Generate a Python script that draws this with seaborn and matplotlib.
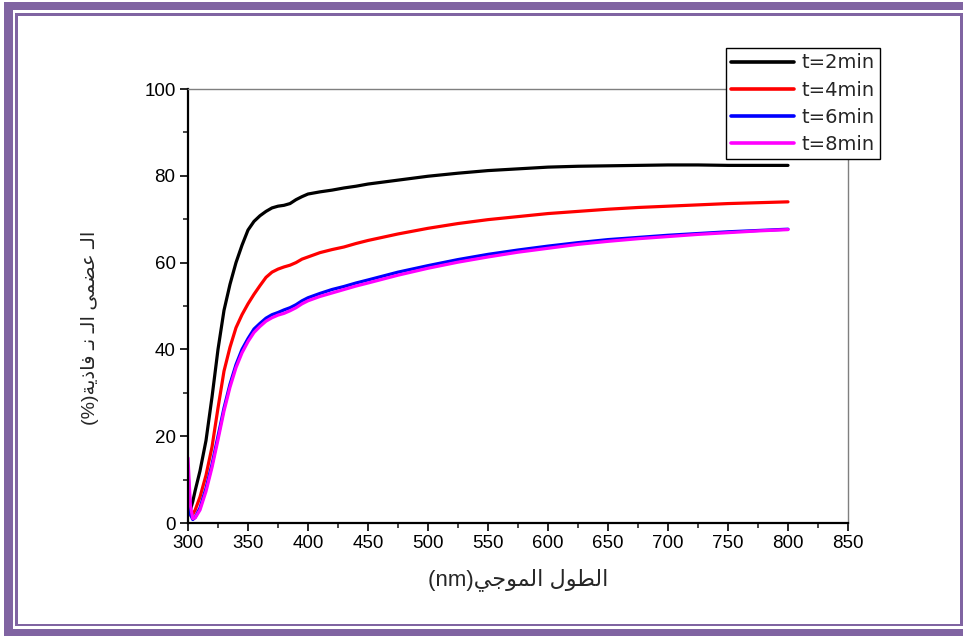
import numpy as np
import pandas as pd
import matplotlib
matplotlib.use("Agg")
import matplotlib.pyplot as plt
from matplotlib.patches import Rectangle
from matplotlib.ticker import MultipleLocator
import seaborn as sns

# ---------------- data ----------------
wavelength = [300, 302, 304, 306, 310, 315, 320, 325, 330, 335, 340, 345, 350,
              355, 360, 365, 370, 375, 380, 385, 390, 395, 400, 410, 420, 430,
              440, 450, 475, 500, 525, 550, 575, 600, 625, 650, 675, 700, 725,
              750, 775, 800]
t2_values = [6, 3, 5, 7.5, 12, 19, 29, 40, 49, 55, 60, 64, 67.5,
             69.5, 70.8, 71.8, 72.6, 73.0, 73.2, 73.6, 74.5, 75.2, 75.8, 76.3, 76.7, 77.2,
             77.6, 78.1, 79.0, 79.9, 80.6, 81.2, 81.6, 82.0, 82.2, 82.3, 82.4, 82.5, 82.5,
             82.4, 82.4, 82.4]
t4_values = [4, 1.8, 2, 3, 6, 11, 17.5, 26.5, 35, 40.5, 45, 48, 50.5,
             52.7, 54.7, 56.6, 57.8, 58.5, 59.0, 59.4, 60.0, 60.8, 61.3, 62.3, 63.0, 63.6,
             64.4, 65.1, 66.6, 67.9, 69.0, 69.9, 70.6, 71.3, 71.8, 72.3, 72.7, 73.0, 73.3,
             73.6, 73.8, 74.0]
t6_values = [12, 2, 0.8, 1.3, 3.5, 8, 13.5, 20, 26.5, 32, 36.5, 40, 42.5,
             44.7, 46.0, 47.2, 48.0, 48.5, 49.1, 49.6, 50.3, 51.2, 51.9, 52.9, 53.8, 54.5,
             55.3, 56.0, 57.8, 59.3, 60.7, 61.9, 62.9, 63.8, 64.6, 65.3, 65.8, 66.3, 66.7,
             67.1, 67.4, 67.7]
t8_values = [15, 4, 1, 1.2, 3, 7.3, 12.8, 19.2, 25.8, 31.3, 35.8, 39.2, 41.8,
             43.9, 45.3, 46.5, 47.3, 47.9, 48.3, 48.9, 49.6, 50.5, 51.2, 52.2, 53.0, 53.8,
             54.6, 55.3, 57.1, 58.7, 60.1, 61.3, 62.4, 63.3, 64.2, 64.9, 65.5, 66.0, 66.5,
             66.9, 67.3, 67.6]
series_labels = ["t=2min", "t=4min", "t=6min", "t=8min"]
series_colors = ["#000000", "#ff0000", "#0000ff", "#ff00ff"]
x_ticks = [300, 350, 400, 450, 500, 550, 600, 650, 700, 750, 800, 850]
y_ticks = [0, 20, 40, 60, 80, 100]

# Arabic labels, written as shaped glyphs in visual order
x_label = "(nm)" + "\uFEF2\uFE9F\uFEEE\uFEE4\uFEDF\uFE8D" + " " + "\uFEDD\uFEEE\uFEC4\uFEDF\uFE8D"
y_label = ("(%)" + "\uFE94\uFEF3\uFEAB\uFE8E\uFED3" + " " + "\u0640\uFEE7" + " "
           + "\u0640\uFEDF\uFE8D" + " " + "\uFEF0\uFEE4\uFEC0\uFECB" + " " + "\u0640\uFEDF\uFE8D")

# ---------------- build long table ----------------
rows = []
for lab, vals in zip(series_labels, [t2_values, t4_values, t6_values, t8_values]):
    for w, v in zip(wavelength, vals):
        rows.append({"wl": w, "T": v, "series": lab})
df = pd.DataFrame(rows)

sns.set_style("ticks")
plt.rcParams["font.family"] = ["Liberation Sans", "DejaVu Sans"]

W, H = 963, 636
fig = plt.figure(figsize=(W / 100, H / 100), dpi=100)
fig.patch.set_facecolor("white")

ax = fig.add_axes([188 / W, 1 - 523 / H, (848 - 188) / W, (523 - 89) / H])
sns.lineplot(data=df, x="wl", y="T", hue="series", hue_order=series_labels,
             palette=dict(zip(series_labels, series_colors)), linewidth=2.3,
             estimator=None, sort=False, ax=ax)

ax.set_xlim(300, 850)
ax.set_ylim(0, 100)
ax.set_xticks(x_ticks)
ax.set_yticks(y_ticks)
ax.xaxis.set_minor_locator(MultipleLocator(25))
ax.yaxis.set_minor_locator(MultipleLocator(10))
ax.tick_params(which="major", direction="out", length=6, width=1.2,
               labelsize=13.5, pad=3, colors="black")
ax.tick_params(which="minor", direction="out", length=3.5, width=1.2)

for s in ["left", "bottom"]:
    ax.spines[s].set_color("black")
    ax.spines[s].set_linewidth(1.6)
for s in ["top", "right"]:
    ax.spines[s].set_color("#7f7f7f")
    ax.spines[s].set_linewidth(1.0)

ax.set_xlabel(x_label, fontsize=16)
ax.set_ylabel(y_label, fontsize=14)
ax.xaxis.set_label_coords(0.5, -0.103)
ax.yaxis.set_label_coords(-0.135, 0.45)

handles, labels = ax.get_legend_handles_labels()
leg = ax.legend(handles, labels, loc="upper right",
                bbox_to_anchor=(880 / W, 1 - 48 / H), bbox_transform=fig.transFigure,
                frameon=True, fancybox=False, edgecolor="black", framealpha=1,
                prop={"family": "DejaVu Sans", "size": 14},
                handlelength=3.2, handletextpad=0.4,
                labelspacing=0.42, borderpad=0.28, borderaxespad=0)
leg.get_frame().set_linewidth(1.0)
for ln in leg.get_lines():
    ln.set_linewidth(2.6)

# ---------------- decorative purple frame ----------------
purple = "#8064A2"
def band(x, y, w, h, color=purple):
    fig.add_artist(Rectangle((x / W, 1 - (y + h) / H), w / W, h / H,
                             transform=fig.transFigure, facecolor=color,
                             edgecolor="none", zorder=10))
band(4, 2, W - 4, 8)        # top band
band(4, 2, 9, H - 2)        # left band
band(4, 629, W - 4, 7)      # bottom band
# inner thin frame
band(15, 13, W - 15, 2.5)
band(15, 13, 2.5, 626 - 13)
band(15, 623.5, W - 15, 2.5)
band(960, 13, 2.5, 626 - 13)

fig.savefig("out.png", dpi=100)
